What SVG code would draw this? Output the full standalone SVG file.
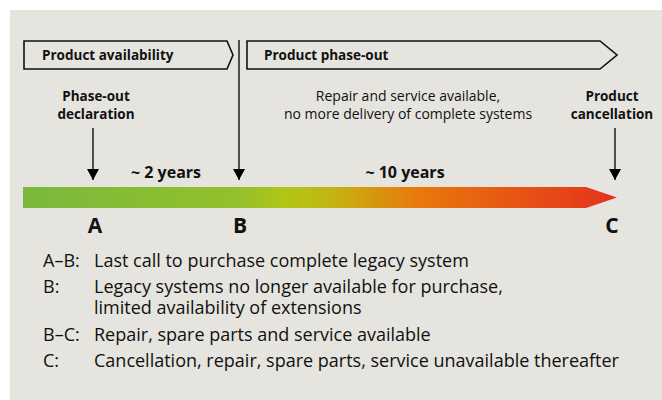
<svg xmlns="http://www.w3.org/2000/svg" width="662" height="400" viewBox="0 0 662 400">
  <defs>
    <linearGradient id="barGrad" gradientUnits="userSpaceOnUse" x1="23" y1="0" x2="617" y2="0">
      <stop offset="0" stop-color="#7ab93c"/>
      <stop offset="0.36" stop-color="#93c02c"/>
      <stop offset="0.44" stop-color="#b0c714"/>
      <stop offset="0.52" stop-color="#c4b412"/>
      <stop offset="0.67" stop-color="#e9770c"/>
      <stop offset="1" stop-color="#e4321c"/>
    </linearGradient>
    <marker id="arrow" viewBox="0 0 11 12" refX="11" refY="6" markerWidth="11" markerHeight="12" markerUnits="userSpaceOnUse" orient="auto">
      <path d="M0,0 L11,6 L0,12 Z" fill="#000"/>
    </marker>
  </defs>
  <style>
    .bold { font-family: "Open Sans", "Liberation Sans", sans-serif; font-weight: 700; fill: #111; }
    .reg { font-family: "Open Sans", "Liberation Sans", sans-serif; font-weight: 400; fill: #111; }
    .box { fill: #e5e4de; stroke: #111; stroke-width: 1.6; }
    .conn { stroke: #111; stroke-width: 1.4; fill: none; }
  </style>
  <rect x="10" y="10" width="652" height="390" fill="#e5e4de"/>

  <g id="phase-availability">
    <polygon class="box" points="24,41 227,41 233,55 227,69 24,69"/>
    <text class="bold" x="42" y="60" font-size="13.5">Product availability</text>
  </g>
  <g id="phase-phaseout">
    <polygon class="box" points="247,41 600,41 617,55 600,69 247,69"/>
    <text class="bold" x="264" y="60" font-size="13.5">Product phase-out</text>
  </g>

  <g id="label-declaration">
    <text class="bold" font-size="13.5" text-anchor="middle"><tspan x="96" y="101">Phase-out</tspan><tspan x="96" y="119">declaration</tspan></text>
  </g>
  <g id="label-repair">
    <text class="reg" font-size="14" text-anchor="middle"><tspan x="408" y="101">Repair and service available,</tspan><tspan x="408" y="119">no more delivery of complete systems</tspan></text>
  </g>
  <g id="label-cancellation">
    <text class="bold" font-size="13.5" text-anchor="middle"><tspan x="612" y="101">Product</tspan><tspan x="612" y="119">cancellation</tspan></text>
  </g>

  <g id="timeline-bar">
    <polygon points="23,187 586,187 617,197.5 586,208 23,208" fill="url(#barGrad)"/>
  </g>

  <g id="connectors">
    <line class="conn" x1="93" y1="128" x2="93" y2="180" marker-end="url(#arrow)"/>
    <line class="conn" x1="239" y1="40" x2="239" y2="180" marker-end="url(#arrow)"/>
    <line class="conn" x1="615" y1="128" x2="615" y2="180" marker-end="url(#arrow)"/>
  </g>

  <g id="duration-2">
    <text class="bold" x="166" y="178" font-size="16" text-anchor="middle">~ 2 years</text>
  </g>
  <g id="duration-10">
    <text class="bold" x="405" y="178" font-size="16" text-anchor="middle">~ 10 years</text>
  </g>

  <g id="point-A"><text class="bold" x="95" y="233" font-size="21" text-anchor="middle">A</text></g>
  <g id="point-B"><text class="bold" x="240" y="233" font-size="21" text-anchor="middle">B</text></g>
  <g id="point-C"><text class="bold" x="612" y="233" font-size="21" text-anchor="middle">C</text></g>

  <g id="legend">
    <text class="reg" x="43" y="267" font-size="18">A–B:</text>
    <text class="reg" x="94" y="267" font-size="18">Last call to purchase complete legacy system</text>
    <text class="reg" x="43" y="293" font-size="18">B:</text>
    <text class="reg" x="94" y="293" font-size="18">Legacy systems no longer available for purchase,</text>
    <text class="reg" x="94" y="314" font-size="18">limited availability of extensions</text>
    <text class="reg" x="43" y="341" font-size="18">B–C:</text>
    <text class="reg" x="94" y="341" font-size="18">Repair, spare parts and service available</text>
    <text class="reg" x="43" y="367" font-size="18">C:</text>
    <text class="reg" x="94" y="367" font-size="18">Cancellation, repair, spare parts, service unavailable thereafter</text>
  </g>
</svg>
